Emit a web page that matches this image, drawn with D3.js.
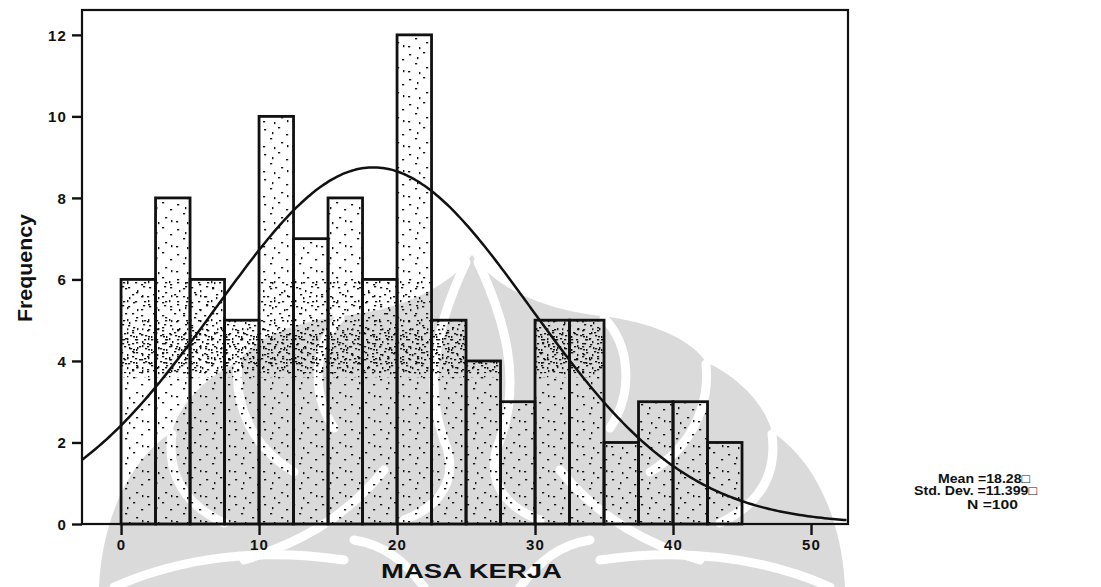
<!DOCTYPE html>
<html>
<head>
<meta charset="utf-8">
<script src="https://cdn.jsdelivr.net/npm/d3@7"></script>
<style>
  html, body { margin: 0; padding: 0; background: #fff; }
  svg { display: block; }
  text { font-family: "Liberation Sans", Arial, sans-serif; font-weight: bold; fill: #111; }
</style>
</head>
<body>
<svg id="chart" width="1101" height="587"></svg>
<script>
// Histogram of MASA KERJA (years of service), bins of 2.5 years
const binWidth = 2.5;
const binStarts = [0, 2.5, 5, 7.5, 10, 12.5, 15, 17.5, 20, 22.5, 25, 27.5, 30, 32.5, 35, 37.5, 40, 42.5];
const counts    = [6, 8, 6, 5, 10, 7, 8, 6, 12, 5, 4, 3, 5, 5, 2, 3, 3, 2];
const xTicks = [0, 10, 20, 30, 40, 50];
const yTicks = [0, 2, 4, 6, 8, 10, 12];
const statLabels = ["Mean =18.28\u25A1", "Std. Dev. =11.399\u25A1", "N =100"];
const meanVal = 18.28, sdVal = 11.399, nVal = 100;

const svg = d3.select("#chart");

const x = d3.scaleLinear().domain([-2.83, 52.68]).range([82, 848]);
const y = d3.scaleLinear().domain([0, 12.61]).range([524, 10]);

// ---- background emblem (light grey) ----
const wm = svg.append("g").attr("class", "emblem");
function emblemHalf(g) {
  g.append("path")
    .attr("d", "M472 255 C500 295 560 312 602 316 C650 322 690 338 706 362 C740 378 765 405 772 432 C815 460 842 520 845 587 L472 587 Z")
    .attr("fill", "#dadada");
  const gaps = [
    "M604 318 C630 345 634 392 610 428",
    "M706 364 C710 405 692 447 650 472",
    "M772 434 C777 472 762 503 720 523",
    "M560 470 C600 520 650 545 700 560",
    "M478 262 C505 320 522 380 500 440 C485 475 500 505 540 520",
    "M600 560 C680 548 760 556 830 587",
    "M520 587 C540 560 560 545 590 540"
  ];
  g.selectAll("path.gap").data(gaps).enter().append("path")
    .attr("class", "gap").attr("d", d => d)
    .attr("fill", "none").attr("stroke", "#fff").attr("stroke-width", 9)
    .attr("stroke-linecap", "round");
}
emblemHalf(wm.append("g"));
emblemHalf(wm.append("g").attr("transform", "translate(944,0) scale(-1,1)"));

// ---- stipple textures ----
const defs = svg.append("defs");
function stipple(id, w, h, pts) {
  const p = defs.append("pattern").attr("id", id)
    .attr("patternUnits", "userSpaceOnUse").attr("width", w).attr("height", h);
  p.selectAll("rect").data(pts).enter().append("rect")
    .attr("x", d => d[0]).attr("y", d => d[1])
    .attr("width", d => d[2] ? 1.4 : 2.2).attr("height", d => d[2] ? 2.2 : 1.4)
    .attr("fill", "#141414");
}
stipple("dotsSparse", 29, 25, [[3,4],[17,2],[25,9],[9,13],[20,17],[2,21],[13,22,1],[26,20,1],[11,7,1]]);
stipple("dotsMid", 21, 19, [[2,2],[11,5,1],[17,1],[6,9],[15,11],[1,15,1],[9,16],[18,16]]);
stipple("dotsDense", 15, 13, [[1,1],[7,3,1],[12,5],[4,8],[10,10],[1,11,1],[13,11]]);

const bins = binStarts.map((s, i) => ({ x0: s, x1: s + binWidth, n: counts[i] }));

const clip = defs.append("clipPath").attr("id", "barClip");
clip.selectAll("rect").data(bins).enter().append("rect")
  .attr("x", d => x(d.x0)).attr("width", d => x(d.x1) - x(d.x0))
  .attr("y", d => y(d.n)).attr("height", d => y(0) - y(d.n));

defs.append("clipPath").attr("id", "frameClip").append("rect")
  .attr("x", 82).attr("y", 10).attr("width", 766).attr("height", 514);

const tex = svg.append("g").attr("clip-path", "url(#barClip)");
tex.append("rect").attr("x", x(0)).attr("y", y(12.6)).attr("width", x(45) - x(0)).attr("height", y(0) - y(12.6))
  .attr("fill", "url(#dotsSparse)");
tex.append("rect").attr("x", x(0)).attr("y", y(6.0)).attr("width", x(45) - x(0)).attr("height", y(3.6) - y(6.0))
  .attr("fill", "url(#dotsMid)");
tex.append("rect").attr("x", x(0)).attr("y", y(4.8)).attr("width", x(45) - x(0)).attr("height", y(3.7) - y(4.8))
  .attr("fill", "url(#dotsDense)");

// ---- bars ----
svg.append("g").selectAll("rect").data(bins).enter().append("rect")
  .attr("x", d => x(d.x0)).attr("width", d => x(d.x1) - x(d.x0))
  .attr("y", d => y(d.n)).attr("height", d => y(0) - y(d.n))
  .attr("fill", "none").attr("stroke", "#111").attr("stroke-width", 2.8);

// ---- fitted normal curve ----
const scaleN = nVal * binWidth / (sdVal * Math.sqrt(2 * Math.PI));
const curvePts = d3.range(x.domain()[0], x.domain()[1] + 0.01, 0.2).map(v => {
  const z = (v - meanVal) / sdVal;
  return [v, scaleN * Math.exp(-0.5 * z * z)];
});
svg.append("path").datum(curvePts)
  .attr("clip-path", "url(#frameClip)")
  .attr("d", d3.line().x(d => x(d[0])).y(d => y(d[1])).curve(d3.curveBasis))
  .attr("fill", "none").attr("stroke", "#111").attr("stroke-width", 2.5);

// ---- frame ----
svg.append("rect").attr("x", 82).attr("y", 10).attr("width", 766).attr("height", 514)
  .attr("fill", "none").attr("stroke", "#111").attr("stroke-width", 2.2);

// ---- axes ----
const yAxis = svg.append("g").attr("transform", "translate(82,0)")
  .call(d3.axisLeft(y).tickValues(yTicks).tickSize(10).tickPadding(5));
const xAxis = svg.append("g").attr("transform", "translate(0,524)")
  .call(d3.axisBottom(x).tickValues(xTicks).tickSize(11).tickPadding(3));
[yAxis, xAxis].forEach(a => {
  a.select(".domain").remove();
  a.selectAll(".tick line").attr("stroke", "#111").attr("stroke-width", 2.4);
  a.selectAll(".tick text").attr("fill", "#111").style("font-family", "Liberation Sans, Arial, sans-serif")
    .style("font-weight", "bold").style("letter-spacing", "1.2px");
});
yAxis.selectAll(".tick text").style("font-size", "15px").attr("dy", "0.36em");
xAxis.selectAll(".tick text").style("font-size", "15px").attr("dy", "0.78em");

// ---- titles ----
svg.append("text").attr("x", 471.5).attr("y", 578).attr("text-anchor", "middle")
  .attr("textLength", 181).attr("lengthAdjust", "spacingAndGlyphs")
  .style("font-size", "21px").text("MASA KERJA");
svg.append("text").attr("transform", "translate(32,268) rotate(-90)").attr("text-anchor", "middle")
  .attr("textLength", 108).attr("lengthAdjust", "spacingAndGlyphs")
  .style("font-size", "21px").text("Frequency");

// ---- summary statistics ----
const statX = [938, 914, 967];
const statY = [482.5, 495, 508.5];
const statW = [92, 123, 51];
svg.append("g").selectAll("text").data(statLabels).enter().append("text")
  .attr("x", (d, i) => statX[i]).attr("y", (d, i) => statY[i])
  .attr("textLength", (d, i) => statW[i]).attr("lengthAdjust", "spacingAndGlyphs")
  .style("font-size", "12.5px").text(d => d);
</script>
</body>
</html>
